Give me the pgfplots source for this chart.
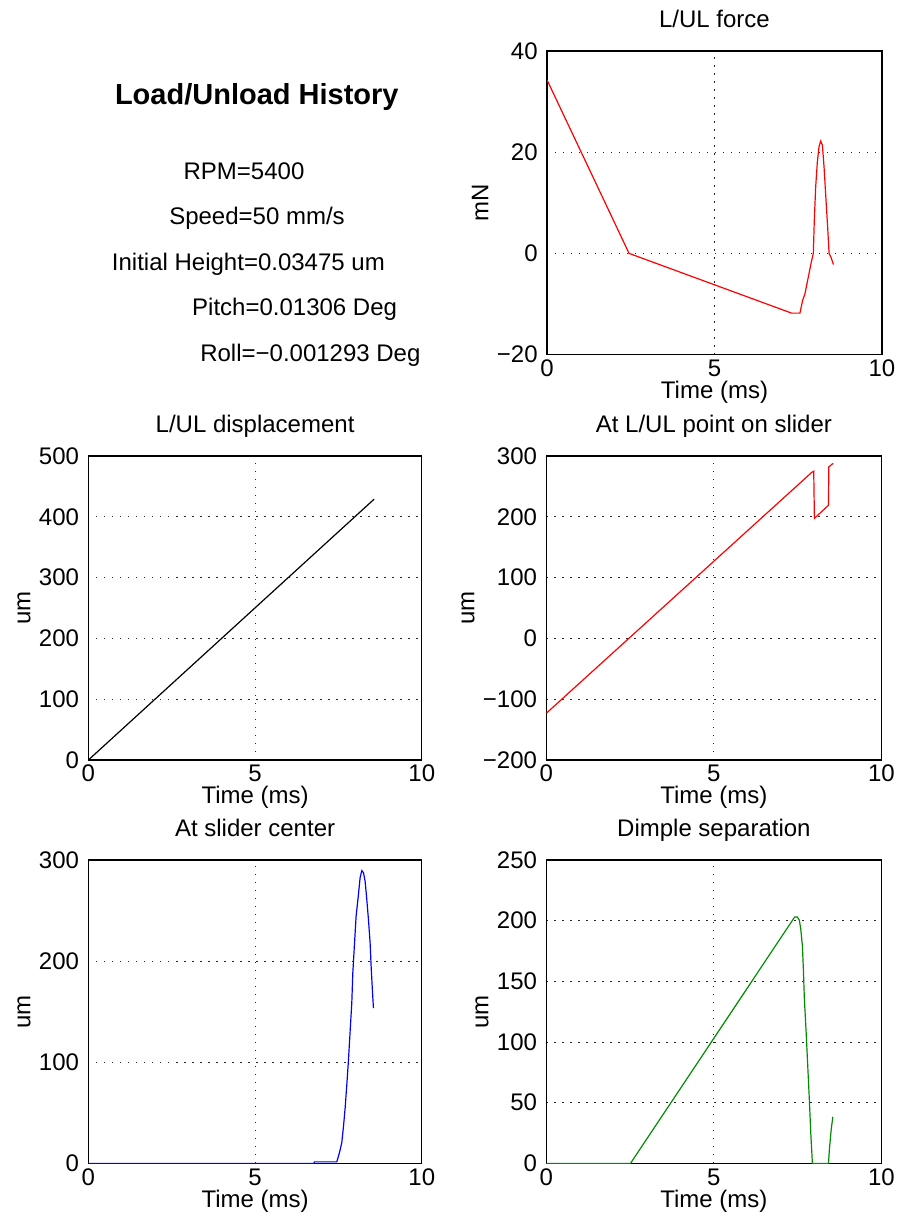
\documentclass[border=0pt]{standalone}
\usepackage{fontspec}
\setmainfont{Liberation Sans}
\usepackage{pgfplots}
\pgfplotsset{compat=1.18}
\definecolor{mred}{rgb}{1,0,0}
\definecolor{mblue}{rgb}{0,0,1}
\definecolor{mgreen}{rgb}{0,0.55,0}
\pgfplotsset{
 mlab/.style={
  scale only axis,
  anchor=north west,
  xmin=0,xmax=10,
  xtick={0,5,10}, xticklabels={0,5,10},
  major tick length=0pt,
  grid=major,
  major grid style={black!85, line width=0.55pt, dash pattern=on 0.55pt off 3.45pt},
  axis line style={line width=0.6pt},
  tick label style={font=\fontsize{12}{14}\selectfont},
  label style={font=\fontsize{12}{14}\selectfont},
  title style={font=\fontsize{12}{14}\selectfont, at={(0.5,1)}, anchor=base, yshift=6pt},
  xticklabel style={anchor=base, yshift=-10.8pt},
  yticklabel style={anchor=east, xshift=-4.5pt, inner sep=0pt},
  xlabel style={at={(axis description cs:0.5,0)}, anchor=base, yshift=-21.8pt},
  xlabel={Time (ms)},
  ylabel style={inner sep=4pt},
 }
}
\begin{document}
\begin{tikzpicture}
\path[use as bounding box] (0pt,0pt) rectangle (448pt,-608.5pt);

% text block
\node[anchor=base, font=\fontsize{14.5}{17}\selectfont\bfseries] at (128.4pt,-52pt) {Load/Unload History};
\begin{scope}[every node/.style={anchor=base, font=\fontsize{12}{14}\selectfont}]
\node at (122pt,-89.7pt) {RPM=5400};
\node at (128.5pt,-112.2pt) {Speed=50 mm/s};
\node at (124.2pt,-135pt) {Initial Height=0.03475 um};
\node at (147.3pt,-157.5pt) {Pitch=0.01306 Deg};
\node at (155.2pt,-180.8pt) {Roll=−0.001293 Deg};
\end{scope}

% L/UL force
\begin{axis}[mlab, at={(273.5pt,-25.5pt)}, width=167.5pt, height=151.8pt,
  ymin=-20, ymax=40, ytick={-20,0,20,40}, yticklabels={−20,0,20,40},
  ylabel={mN}, title={L/UL force}]
\addplot[mred, line width=0.6pt] coordinates {
(0,34.3) (2.45,0) (7.30,-11.8) (7.55,-11.8) (7.63,-9.3) (7.70,-8.0) (7.75,-6.3)
(7.80,-4.7) (7.85,-3.0) (7.90,-1.4) (7.95,0) (7.98,6.7) (8.02,13.1) (8.07,18.1)
(8.12,21.1) (8.17,22.2) (8.22,21.4) (8.27,17.1) (8.32,11.5) (8.38,4.9) (8.42,0)
(8.48,-0.8) (8.55,-2.2)};
\end{axis}

% L/UL displacement
\begin{axis}[mlab, at={(44.2pt,-228pt)}, width=166.7pt, height=152pt,
  ymin=0, ymax=500, ytick={0,100,200,300,400,500}, yticklabels={0,100,200,300,400,500},
  ylabel={um}, title={L/UL displacement}]
\addplot[black, line width=0.6pt] coordinates {(0,0) (8.57,429)};
\end{axis}

% At L/UL point on slider
\begin{axis}[mlab, at={(273.2pt,-228pt)}, width=167.5pt, height=152pt,
  ymin=-200, ymax=300, ytick={-200,-100,0,100,200,300}, yticklabels={−200,−100,0,100,200,300},
  ylabel={um}, title={At L/UL point on slider}]
\addplot[mred, line width=0.6pt] coordinates {
(0,-123) (7.93,273.5) (7.98,275) (8.0,197.5) (8.42,219) (8.43,282) (8.56,288)};
\end{axis}

% At slider center
\begin{axis}[mlab, at={(44.2pt,-430pt)}, width=166.7pt, height=151.7pt,
  ymin=0, ymax=300, ytick={0,100,200,300}, yticklabels={0,100,200,300},
  ylabel={um}, title={At slider center}]
\addplot[mblue, line width=0.6pt] coordinates {
(0,0) (6.76,0) (6.78,1.5) (7.45,1.5) (7.53,10.6) (7.60,20.5) (7.65,36.3) (7.70,54.5)
(7.75,77.5) (7.80,102) (7.85,130.5) (7.90,158.5) (7.93,188) (7.98,216.5) (8.03,244.5)
(8.10,266) (8.15,282.5) (8.20,289.5) (8.25,287.5) (8.30,279) (8.35,261) (8.40,241)
(8.45,218) (8.48,195) (8.52,170) (8.55,153.5)};
\end{axis}

% Dimple separation
\begin{axis}[mlab, at={(273.2pt,-430pt)}, width=167.5pt, height=151.7pt,
  ymin=0, ymax=250, ytick={0,50,100,150,200,250}, yticklabels={0,50,100,150,200,250},
  ylabel={um}, title={Dimple separation}]
\addplot[mgreen, line width=0.6pt] coordinates {
(0,0) (2.51,0) (7.41,203) (7.49,203) (7.55,200.5) (7.59,193.7) (7.64,180) (7.67,160.7)
(7.70,136) (7.75,110) (7.80,81) (7.85,52) (7.89,26) (7.94,0) (8.42,0) (8.45,12.4)
(8.50,27.5) (8.55,38.4)};
\end{axis}
\end{tikzpicture}
\end{document}
